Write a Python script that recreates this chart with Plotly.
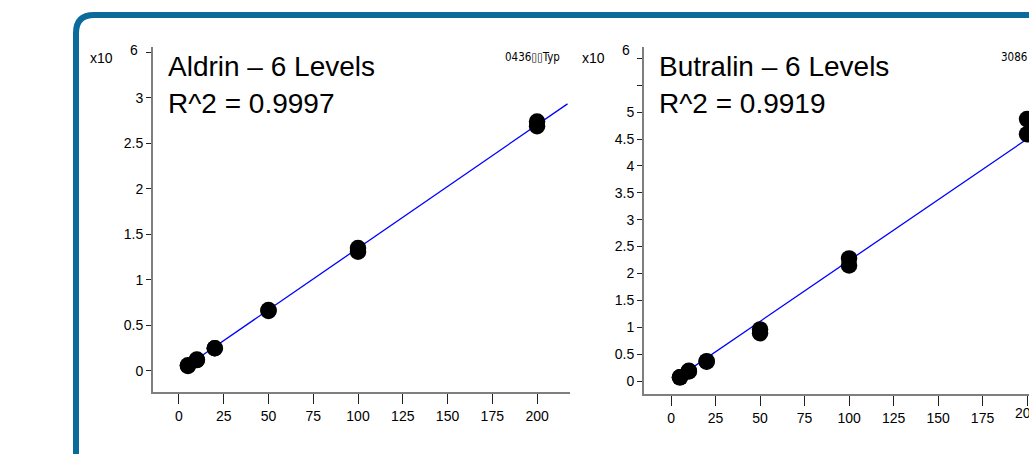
import plotly.graph_objects as go

W, H = 1029, 454

# ---- data (responses in units of 10^6) ----
conc = [5, 5, 10, 10, 20, 20, 50, 50, 100, 100, 200, 200]
aldrin_resp = [0.055, 0.062, 0.12, 0.125, 0.25, 0.25, 0.66, 0.67, 1.31, 1.35, 2.69, 2.74]
butralin_resp = [0.07, 0.07, 0.18, 0.19, 0.36, 0.37, 0.89, 0.96, 2.15, 2.28, 4.59, 4.87]

aldrin_fit = {"slope": 0.01355, "intercept": -0.005}
butralin_fit = {"slope": 0.0226, "intercept": -0.02}
fit_x = [5, 217]
fit_x_b = [5, 225]

aldrin_title = ["Aldrin \u2013 6 Levels", "R^2 = 0.9997"]
butralin_title = ["Butralin \u2013 6 Levels", "R^2 = 0.9919"]

x_ticks = [0, 25, 50, 75, 100, 125, 150, 175, 200]
x_text = ["0", "25", "50", "75", "100", "125", "150", "175", "200"]
aldrin_yticks = [0, 0.5, 1, 1.5, 2, 2.5, 3, 3.5]
aldrin_ytext = ["0", "0.5", "1", "1.5", "2", "2.5", "3", ""]
butralin_yticks = [0, 0.5, 1, 1.5, 2, 2.5, 3, 3.5, 4, 4.5, 5, 5.5, 6]
butralin_ytext = ["0", "0.5", "1", "1.5", "2", "2.5", "3", "3.5", "4", "4.5", "5", "", ""]


def px(x):
    return x / W


def py(y):
    return 1 - y / H


fig = go.Figure()

# Aldrin
fig.add_trace(go.Scatter(
    x=fit_x, y=[aldrin_fit["slope"] * v + aldrin_fit["intercept"] for v in fit_x],
    mode="lines", line=dict(color="#0000ff", width=1.3), xaxis="x", yaxis="y",
    showlegend=False, hoverinfo="skip"))
fig.add_trace(go.Scatter(
    x=conc, y=aldrin_resp, mode="markers",
    marker=dict(color="black", size=16.5), xaxis="x", yaxis="y", showlegend=False))

# Butralin
fig.add_trace(go.Scatter(
    x=fit_x_b, y=[butralin_fit["slope"] * v + butralin_fit["intercept"] for v in fit_x_b],
    mode="lines", line=dict(color="#0000ff", width=1.3), xaxis="x2", yaxis="y2",
    showlegend=False, hoverinfo="skip"))
fig.add_trace(go.Scatter(
    x=conc, y=butralin_resp, mode="markers",
    marker=dict(color="black", size=16.5), xaxis="x2", yaxis="y2", showlegend=False))

tickfont = dict(family="Liberation Sans, Arial, sans-serif", size=14, color="black")
axis_common = dict(showline=True, linecolor="#7f7f7f", linewidth=2, showgrid=False,
                   zeroline=False, ticks="outside", tickcolor="#222", tickwidth=1,
                   tickfont=tickfont, fixedrange=True)

fig.update_layout(
    width=W, height=H,
    margin=dict(l=0, r=0, t=0, b=0),
    paper_bgcolor="white", plot_bgcolor="white",
    xaxis=dict(domain=[px(153), px(570)], range=[-14.5, 218.4], anchor="y",
               tickvals=x_ticks, ticktext=x_text, ticklen=10, **axis_common),
    yaxis=dict(domain=[py(392), py(47)], range=[-0.231, 3.56], anchor="x",
               tickvals=aldrin_yticks, ticktext=aldrin_ytext, ticklen=5, **axis_common),
    xaxis2=dict(domain=[px(644), 1.0], range=[-15.2, 201.1], anchor="y2",
                tickvals=x_ticks, ticktext=x_text[:-1] + [""], ticklen=10, **axis_common),
    yaxis2=dict(domain=[py(394), py(47)], range=[-0.24, 6.21], anchor="x2",
                tickvals=butralin_yticks, ticktext=butralin_ytext, ticklen=5, **axis_common),
)

# rounded blue frame
x0, y0, r = 76, 15, 18
path = (f"M {px(x0)},{py(H + 20)} L {px(x0)},{py(y0 + r)} "
        f"Q {px(x0)},{py(y0)} {px(x0 + r)},{py(y0)} L {px(W + 20)},{py(y0)}")
fig.add_shape(type="path", path=path, xref="paper", yref="paper",
              line=dict(color="#0b6a9b", width=6), layer="below")

small = dict(family="Liberation Sans, Arial, sans-serif", size=14, color="black")
big = dict(family="Liberation Sans, Arial, sans-serif", size=28, color="black")

annos = []
for (tx, lines) in [(166, aldrin_title), (657, butralin_title)]:
    annos.append(dict(x=px(tx), y=py(66), xref="paper", yref="paper", xanchor="left",
                      yanchor="middle", text=lines[0], showarrow=False, font=big))
    annos.append(dict(x=px(tx), y=py(103), xref="paper", yref="paper", xanchor="left",
                      yanchor="middle", text=lines[1], showarrow=False, font=big))
for (xx, ex) in [(88, 128), (580, 620)]:
    annos.append(dict(x=px(xx), y=py(58), xref="paper", yref="paper", xanchor="left",
                      yanchor="middle", text="x10", showarrow=False, font=small))
    annos.append(dict(x=px(ex), y=py(50), xref="paper", yref="paper", xanchor="left",
                      yanchor="middle", text="6", showarrow=False, font=small))
# last x tick label of the right chart (runs past the page edge)
annos.append(dict(x=x_ticks[-1], y=py(413), xref="x2", yref="paper", xanchor="center",
                  yanchor="middle", text=x_text[-1], showarrow=False, font=small))
tiny = dict(family="DejaVu Sans Condensed, Liberation Sans", size=11.5, color="black")
annos.append(dict(x=px(503), y=py(57), xref="paper", yref="paper", xanchor="left",
                  yanchor="middle", text="0436\u25af\u25afTyp", showarrow=False, font=tiny))
annos.append(dict(x=px(1029), y=py(57), xref="paper", yref="paper", xanchor="right",
                  yanchor="middle", text="3086", showarrow=False, font=tiny))
fig.update_layout(annotations=annos)

fig.write_html("out.html", config={"displayModeBar": False},
               post_script="document.body.style.margin='0';document.body.style.overflow='hidden';")
